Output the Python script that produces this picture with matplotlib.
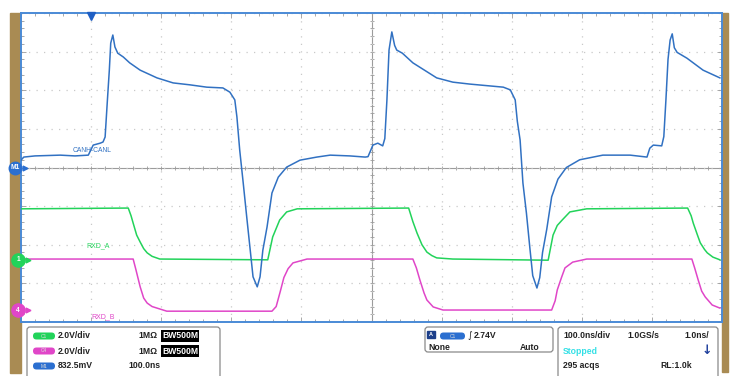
import matplotlib
matplotlib.use('Agg')
import matplotlib.pyplot as plt
import matplotlib.transforms as mtransforms
from matplotlib.patches import FancyBboxPatch, Rectangle
import numpy as np

"""
Waveform data read off the scope screen
time in ns (100 ns/div, 10 div), level in divisions from screen centre
"""
can_t = [0, 4, 20, 56, 77, 96, 103, 113, 117, 120, 123, 126, 128, 131, 134, 138, 146, 155, 170, 194,
         217, 241, 265, 288, 298, 305, 308, 312, 317, 322, 327, 331, 337, 341, 345, 351, 358, 367, 379, 398,
         422, 441, 469, 491, 495, 499, 502, 509, 516, 519, 522, 525, 529, 533, 536, 544, 559, 593, 616, 640,
         688, 698, 705, 708, 712, 716, 721, 726, 730, 736, 740, 744, 750, 757, 766, 778, 797, 830, 869, 893,
         897, 902, 914, 917, 920, 923, 926, 929, 932, 936, 950, 973, 997]
can_v = [0.19, 0.27, 0.30, 0.32, 0.30, 0.32, 0.58, 0.63, 0.66, 0.79, 1.67, 2.52, 3.22, 3.43, 3.12, 2.96, 2.86, 2.71, 2.52, 2.32,
         2.19, 2.14, 2.08, 2.06, 1.95, 1.75, 1.31, 0.45, -0.40, -1.28, -2.14, -2.83, -3.09, -2.83, -2.14, -1.54, -0.66, -0.25, 0.01, 0.19,
         0.27, 0.32, 0.30, 0.27, 0.28, 0.45, 0.58, 0.63, 0.56, 0.75, 1.75, 3.04, 3.51, 3.16, 3.04, 2.96, 2.71, 2.32, 2.21, 2.16,
         2.08, 2.01, 1.75, 1.20, 0.71, -0.40, -1.18, -2.10, -2.80, -3.12, -2.85, -2.20, -1.60, -0.76, -0.30, 0.00, 0.20, 0.32, 0.32, 0.27,
         0.50, 0.58, 0.56, 0.80, 1.75, 2.80, 3.30, 3.46, 3.10, 2.98, 2.83, 2.52, 2.32]

rxa_t = [0, 153, 157, 160, 165, 170, 175, 180, 187, 198, 352, 359, 369, 379, 394, 553, 559, 565, 572, 579,
         586, 593, 616, 752, 759, 765, 772, 783, 807, 951, 956, 959, 965, 969, 975, 979, 987, 997]
rxa_v = [-1.07, -1.05, -1.25, -1.44, -1.75, -1.93, -2.10, -2.21, -2.30, -2.37, -2.39, -1.80, -1.36, -1.15, -1.07, -1.05, -1.40, -1.70, -2.00, -2.19,
         -2.28, -2.34, -2.37, -2.40, -1.75, -1.50, -1.36, -1.15, -1.07, -1.05, -1.25, -1.44, -1.75, -1.95, -2.12, -2.21, -2.32, -2.39]

rxb_t = [0, 160, 164, 170, 175, 180, 187, 194, 208, 358, 364, 370, 375, 381, 388, 408, 559, 564, 569, 575,
         579, 588, 602, 757, 762, 765, 771, 776, 787, 807, 957, 961, 966, 971, 976, 986, 997]
rxb_v = [-2.37, -2.37, -2.65, -3.09, -3.38, -3.51, -3.60, -3.64, -3.72, -3.72, -3.60, -3.20, -2.85, -2.62, -2.47, -2.37, -2.37, -2.60, -2.91, -3.25,
         -3.43, -3.61, -3.69, -3.69, -3.45, -3.17, -2.85, -2.60, -2.45, -2.37, -2.37, -2.60, -2.91, -3.20, -3.35, -3.56, -3.64]

ch1_gnd = -2.39
ch4_gnd = -3.70
m1_ref = 0.0
trig_t = 100

"""
Colours
"""
c_can = '#3171c2'
c_rxa = '#22d35a'
c_rxb = '#e046c8'
c_brown = '#a98b53'
c_frame = '#4a8ad6'
c_grid = '#c9c9c9'

W, H = 740, 376
fig = plt.figure(figsize=(W/100, H/100), dpi=100)
fig.patch.set_facecolor('white')
px = mtransforms.Affine2D().scale(1.0/W, -1.0/H).translate(0, 1) + fig.transFigure

# brown side strips (behind everything)
fig.patches.append(Rectangle((10, 13), 11, 360, transform=px, color=c_brown, zorder=-5))
fig.patches.append(Rectangle((722, 13), 6, 359, transform=px, color=c_brown, zorder=-5))

ax = fig.add_axes([21/W, 1-322/H, 701/W, 309/H])
ax.set_xlim(0, 1000)
ax.set_ylim(-4, 4)
ax.set_xticks(np.arange(0, 1001, 100))
ax.set_xticks(np.arange(0, 1001, 20), minor=True)
ax.set_yticks(np.arange(-4, 4.01, 1))
ax.set_yticks(np.arange(-4, 4.01, 0.2), minor=True)
ax.tick_params(which='both', direction='in', top=True, right=True, labelbottom=False, labelleft=False,
               color='#9a9a9a', width=0.6)
ax.tick_params(which='major', length=3.5)
ax.tick_params(which='minor', length=2.5)
ax.grid(True, which='major', color=c_grid, linestyle=(0, (1, 5)), linewidth=0.9)
for s in ax.spines.values():
    s.set_color(c_frame)
    s.set_linewidth(1.4)

# centre crosshair with small ticks
ax.axhline(0, color='#9c9c9c', lw=0.8, zorder=1)
ax.axvline(500, color='#9c9c9c', lw=0.8, zorder=1)
mx = np.arange(0, 1001, 20)
my = np.arange(-4, 4.01, 0.2)
ax.plot(mx, np.zeros_like(mx), linestyle='none', marker='|', ms=3.5, mew=0.6, color='#9c9c9c', zorder=1)
ax.plot(np.full_like(my, 500), my, linestyle='none', marker='_', ms=3.5, mew=0.6, color='#9c9c9c', zorder=1)

# traces
ax.plot(rxb_t, rxb_v, color=c_rxb, lw=1.1, zorder=3)
ax.plot(rxa_t, rxa_v, color=c_rxa, lw=1.1, zorder=3)
ax.plot(can_t, can_v, color=c_can, lw=1.1, zorder=4)

fn = 'Liberation Sans'
ax.text(74, 0.45, 'CANH-CANL', color=c_can, fontsize=4.9, family=fn, va='center')
ax.text(93, -2.03, 'RXD_A', color=c_rxa, fontsize=5.0, family=fn, va='center')
ax.text(101, -3.87, 'RXD_B', color=c_rxb, fontsize=5.0, family=fn, va='center')

# trigger position marker
ax.plot([trig_t], [3.93], marker='v', ms=6, color='#1f5fc4', clip_on=False, zorder=6)

# channel reference markers on the left
bl = mtransforms.blended_transform_factory(px, ax.transData)
for yy, col, lab, xc, ms in [(m1_ref, '#2b6fd0', 'M1', 15, 9), (ch1_gnd, c_rxa, '1', 18, 9.5), (ch4_gnd, c_rxb, '4', 18, 9.5)]:
    ax.plot([xc], [yy], marker='o', ms=ms, color=col, transform=bl, clip_on=False, zorder=7)
    ax.plot([xc + 10], [yy], marker='>', ms=3.5, color=col, transform=bl, clip_on=False, zorder=7)
    ax.text(xc, yy, lab, transform=bl, color='white', fontsize=4.8, family=fn, weight='bold',
            ha='center', va='center', zorder=8, clip_on=False)

"""
Readout panel
"""
def box(x0, y0, x1, y1):
    fig.patches.append(FancyBboxPatch((x0, y0), x1-x0, y1-y0, boxstyle='round,pad=0,rounding_size=3',
                                      transform=px, facecolor='white', edgecolor='#8a8a8a', lw=0.9))

def pill(x0, yc, w, col, lab):
    fig.patches.append(FancyBboxPatch((x0, yc-3.5), w, 7, boxstyle='round,pad=0,rounding_size=3.5',
                                      transform=px, facecolor=col, edgecolor='none'))
    fig.text(x0 + w/2, yc, lab, transform=px, fontsize=3.5, color='#dddddd', ha='center', va='center', family=fn)

def txt(x, y, s, **kw):
    opts = dict(transform=px, fontsize=6.2, family=fn, weight='bold', va='center', color='#222222')
    opts.update(kw)
    fig.text(x, y, s, **opts)

box(27, 327, 220, 382)
box(425, 327, 553, 352)
box(558, 327, 718, 382)

rows = [(336, c_rxa, 'C1', '2.0V/div', '1MΩ'), (351, c_rxb, 'C4', '2.0V/div', '1MΩ')]
for yc, col, lab, scale, imp in rows:
    pill(33, yc, 22, col, lab)
    txt(58, yc, scale)
    txt(138, yc, imp)
    txt(162, yc, 'BW500M', color='white', bbox=dict(boxstyle='square,pad=0.15', fc='black', ec='none'))
pill(33, 366, 22, '#2b6fd0', 'M1')
txt(58, 366, '832.5mV')
txt(128, 366, '100.0ns')

fig.patches.append(Rectangle((427, 331), 8, 7, transform=px, color='#1d3f8a'))
fig.text(431, 334.5, 'A', transform=px, fontsize=4, color='white', ha='center', va='center', weight='bold', family=fn)
pill(440, 336, 25, '#2b6fd0', 'C1')
txt(467, 336, '\u222b', family='DejaVu Sans', weight='normal', fontsize=6.5)
txt(474, 336, '2.74V')
txt(428, 348, 'None')
txt(540, 348, 'Auto', ha='right')

txt(563, 336, '100.0ns/div')
txt(627, 336, '1.0GS/s')
txt(709, 336, '1.0ns/', ha='right')
txt(563, 351, 'Stopped', color='#33e0e6')
txt(563, 366, '295 acqs')
txt(660, 366, 'RL:1.0k')
fig.text(707, 351, '\u2193', transform=px, fontsize=9, color='#1f3f9c', ha='center', va='center',
         weight='bold', family='DejaVu Sans')

fig.savefig('out.png', dpi=100, facecolor='white')
